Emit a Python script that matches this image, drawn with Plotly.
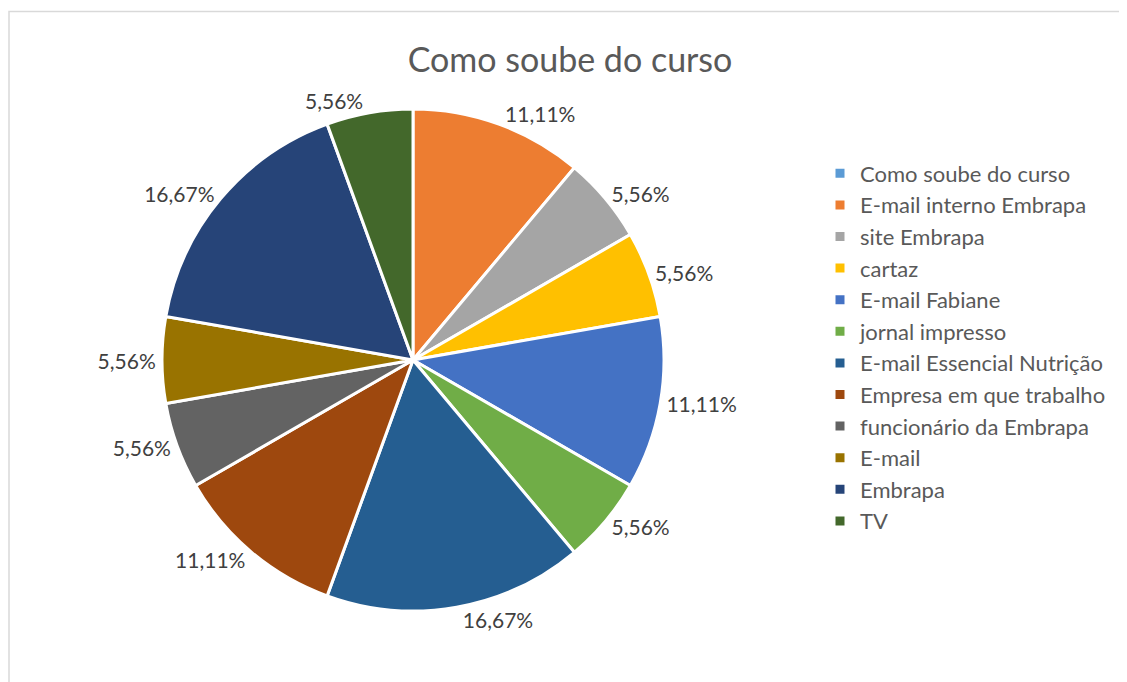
import plotly.graph_objects as go

labels = ["Como soube do curso", "E-mail interno Embrapa", "site Embrapa", "cartaz",
          "E-mail Fabiane", "jornal impresso", "E-mail Essencial Nutrição",
          "Empresa em que trabalho", "funcionário da Embrapa", "E-mail", "Embrapa", "TV"]
values = [0, 2, 1, 1, 2, 1, 3, 2, 1, 1, 3, 1]
colors = ["#5B9BD5", "#ED7D31", "#A5A5A5", "#FFC000", "#4472C4", "#70AD47",
          "#255E91", "#9E480E", "#636363", "#997300", "#264478", "#43682B"]
title_text = "Como soube do curso"

total = sum(values)
pct_text = [("%.2f%%" % (v / total * 100)).replace(".", ",") if v > 0 else "" for v in values]

# page offset of 8px (default body margin) compensated
OFF = 8
W, H = 1127 - OFF, 682 - OFF
cx, cy, r = 413 - OFF, 360 - OFF, 251

fig = go.Figure(go.Pie(
    labels=labels,
    values=values,
    text=pct_text,
    textinfo="text",
    textposition="outside",
    outsidetextfont=dict(family="Lato", size=21, color="#404040"),
    sort=False,
    direction="clockwise",
    rotation=0,
    marker=dict(colors=colors, line=dict(color="white", width=3)),
    domain=dict(x=[(cx - r) / W, (cx + r) / W], y=[(H - cy - r) / H, (H - cy + r) / H]),
    hoverinfo="label+percent",
))

fig.update_layout(
    width=W, height=H, autosize=False,
    margin=dict(l=0, r=0, t=0, b=0),
    paper_bgcolor="white",
    font=dict(family="Lato", color="#595959"),
    title=dict(text=title_text, x=(570 - OFF) / W, xanchor="center", y=1 - (60 - OFF) / H,
               yanchor="middle",
               font=dict(family="Lato", size=34, color="#595959")),
    legend=dict(x=(820 - OFF) / W, xanchor="left", y=1 - (152.5 - OFF) / H, yanchor="top",
                font=dict(family="Lato", size=22, color="#595959"),
                bgcolor="rgba(0,0,0,0)"),
    shapes=[dict(type="rect", xref="paper", yref="paper",
                 x0=1.0 / W, x1=1.02, y0=-0.02, y1=1 - (11.5 - OFF) / H,
                 line=dict(color="#D9D9D9", width=1.5))],
)

fig.write_html("out.html")
